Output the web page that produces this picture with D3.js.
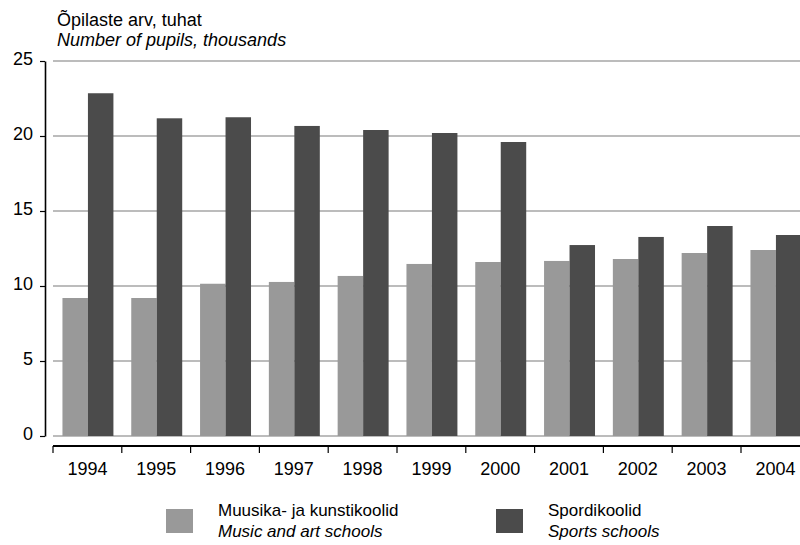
<!DOCTYPE html>
<html>
<head>
<meta charset="utf-8">
<script src="https://cdn.jsdelivr.net/npm/d3@7"></script>
<style>
  body { margin: 0; background: #fff; }
  svg { display: block; font-family: "Liberation Sans", Arial, sans-serif; }
</style>
</head>
<body>
<svg id="chart" width="800" height="545"></svg>
<script>
// Pupils in music/art schools and sports schools, thousands
const years = ["1994", "1995", "1996", "1997", "1998", "1999", "2000", "2001", "2002", "2003", "2004"];
const musicArt = [9.2, 9.2, 10.15, 10.27, 10.67, 11.47, 11.6, 11.67, 11.8, 12.2, 12.4];
const sports = [22.85, 21.18, 21.25, 20.67, 20.4, 20.2, 19.6, 12.73, 13.27, 14.0, 13.4];
const yTicks = [0, 5, 10, 15, 20, 25];
const seriesKeys = ["musicArt", "sports"];
const seriesEt = ["Muusika- ja kunstikoolid", "Spordikoolid"];
const seriesEn = ["Music and art schools", "Sports schools"];
const seriesColors = ["#999999", "#4b4b4b"];

const FONT = "Liberation Sans, Arial, sans-serif";
const FS = 18;
const svg = d3.select("#chart");

const y = d3.scaleLinear().domain([0, 25]).range([436, 61]);
const x = d3.scaleBand().domain(years).range([53, 809.8]).padding(0);
const xSub = d3.scaleBand().domain(seriesKeys).range([0, x.bandwidth()])
  .paddingInner(0).paddingOuter(0.35).align(0.53);
const color = d3.scaleOrdinal().domain(seriesKeys).range(seriesColors);

// Title
const title = svg.append("text").attr("x", 57).attr("y", 26).attr("font-size", FS).attr("fill", "#000");
title.append("tspan").text("Õpilaste arv, tuhat");
title.append("tspan").attr("x", 57).attr("y", 46).attr("font-style", "italic").text("Number of pupils, thousands");

// Horizontal gridlines (including the zero line)
svg.append("g").selectAll("line").data(yTicks).join("line")
  .attr("x1", 53).attr("x2", 800)
  .attr("y1", d => y(d)).attr("y2", d => y(d))
  .attr("stroke", "#a6a6a6").attr("stroke-width", 1.5);

// Y axis
const yAxis = svg.append("g").attr("transform", "translate(45,0)")
  .call(d3.axisLeft(y).tickValues(yTicks).tickSize(5).tickSizeOuter(0).tickPadding(7));
yAxis.select(".domain").attr("stroke", "#000").attr("stroke-width", 1.6);
yAxis.selectAll(".tick line").attr("stroke", "#000").attr("stroke-width", 1.2);
yAxis.selectAll(".tick text").attr("font-size", FS).attr("fill", "#000")
  .attr("font-family", FONT).attr("dy", "0.2em");

// Bars
const rows = years.map((yr, i) => ({ year: yr, musicArt: musicArt[i], sports: sports[i] }));
svg.append("g").selectAll("g").data(rows).join("g")
  .attr("transform", d => `translate(${x(d.year)},0)`)
  .selectAll("rect").data(d => seriesKeys.map(k => ({ key: k, value: d[k] }))).join("rect")
  .attr("x", d => xSub(d.key))
  .attr("width", xSub.bandwidth())
  .attr("y", d => y(d.value))
  .attr("height", d => y(0) - y(d.value))
  .attr("fill", d => color(d.key));

// X axis: separate baseline below the plot with ticks at category boundaries
const xAxisY = 446;
svg.append("line").attr("x1", 53).attr("x2", 800).attr("y1", xAxisY).attr("y2", xAxisY)
  .attr("stroke", "#000").attr("stroke-width", 2);
svg.append("g").selectAll("line").data(years).join("line")
  .attr("x1", d => x(d)).attr("x2", d => x(d))
  .attr("y1", xAxisY).attr("y2", xAxisY + 7)
  .attr("stroke", "#000").attr("stroke-width", 1.2);
const xAxis = svg.append("g").attr("transform", `translate(0,${xAxisY})`)
  .call(d3.axisBottom(x).tickSize(0).tickPadding(16));
xAxis.select(".domain").remove();
xAxis.selectAll(".tick text").attr("font-size", FS).attr("fill", "#000").attr("font-family", FONT);

// Legend
const LFS = 17;
const legendX = [166, 496];
const legend = svg.append("g").selectAll("g").data(seriesKeys).join("g")
  .attr("transform", (d, i) => `translate(${legendX[i]},509)`);
legend.append("rect").attr("width", 27).attr("height", 24).attr("fill", d => color(d));
legend.append("text").attr("x", 52).attr("y", 7).attr("font-size", LFS).attr("fill", "#000")
  .text((d, i) => seriesEt[i]);
legend.append("text").attr("x", 52).attr("y", 28).attr("font-size", LFS).attr("fill", "#000")
  .attr("font-style", "italic").text((d, i) => seriesEn[i]);
</script>
</body>
</html>
